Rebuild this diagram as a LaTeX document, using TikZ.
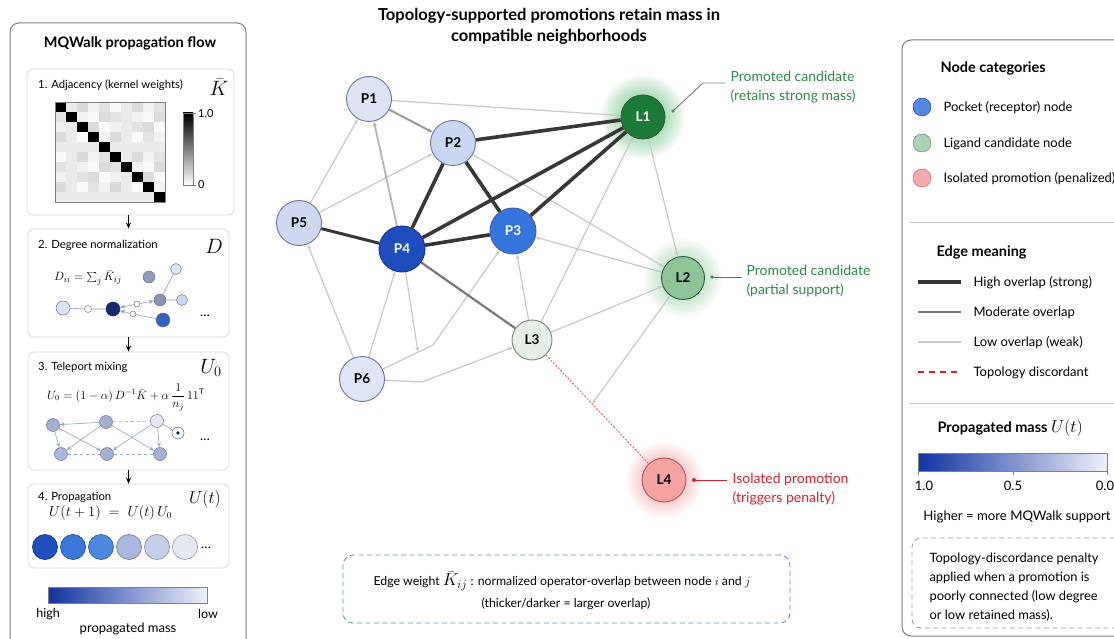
\documentclass[tikz,border=0pt]{standalone}
\usepackage{fontspec}
\setmainfont{Lato}
\usetikzlibrary{arrows.meta,positioning,backgrounds}
\definecolor{nodeP1}{RGB}{221,227,245}
\definecolor{nodeP2}{RGB}{201,216,242}
\definecolor{nodeP3}{RGB}{52,118,222}
\definecolor{nodeP4}{RGB}{30,78,190}
\definecolor{nodeP5}{RGB}{206,217,241}
\definecolor{nodeP6}{RGB}{223,228,246}
\definecolor{nodeL1}{RGB}{27,122,56}
\definecolor{nodeL2}{RGB}{142,196,152}
\definecolor{nodeL3}{RGB}{229,239,229}
\definecolor{nodeL4}{RGB}{245,162,162}
\definecolor{rimBlue}{RGB}{105,118,150}
\definecolor{rimDeep}{RGB}{22,50,130}
\definecolor{rimGreen}{RGB}{40,95,55}
\definecolor{rimRed}{RGB}{190,80,80}
\definecolor{glowG}{RGB}{70,175,90}
\definecolor{glowR}{RGB}{240,90,90}
\definecolor{strongE}{RGB}{55,55,55}
\definecolor{midE}{RGB}{120,120,120}
\definecolor{weakE}{RGB}{200,200,200}
\definecolor{txtGreen}{RGB}{40,140,70}
\definecolor{txtSage}{RGB}{70,130,90}
\definecolor{txtRed}{RGB}{225,30,40}
\definecolor{frameGray}{RGB}{125,125,125}
\definecolor{boxGray}{RGB}{215,215,215}
\definecolor{massHi}{RGB}{16,52,160}
\definecolor{massLo}{RGB}{238,240,250}
\definecolor{dashBlue}{RGB}{95,135,190}
\definecolor{miniE}{RGB}{150,172,212}
\definecolor{mass1}{RGB}{30,80,190}
\definecolor{mass2}{RGB}{58,120,220}
\definecolor{mass3}{RGB}{78,137,225}
\definecolor{mass4}{RGB}{168,184,222}
\definecolor{mass5}{RGB}{196,207,234}
\definecolor{mass6}{RGB}{230,233,243}
\newcommand{\fsz}[2]{\fontsize{#1}{#2}\selectfont}
\tikzset{
  gnode/.style={circle, draw=rimBlue, line width=0.9pt, minimum size=45pt, inner sep=0pt, font=\bfseries\fsz{13.5}{13.5}},
  strong/.style={draw=strongE, line width=3.6pt},
  moderate/.style={draw=midE, line width=2.2pt},
  weak/.style={draw=weakE, line width=1.2pt},
  arrowed/.style={-{Stealth[length=5pt,width=4pt]}},
  discordline/.style={draw=txtRed!80, line width=0.8pt, dash pattern=on 2pt off 1.5pt},
  pointer/.style={line width=0.9pt},
  legtext/.style={anchor=west, font=\fsz{13}{15}},
  steptitle/.style={anchor=west, inner sep=1pt, font=\fsz{11.3}{13}},
  symbol/.style={inner sep=0pt},
  stepbox/.style={draw=boxGray, rounded corners=6pt, line width=0.8pt, inner sep=0pt},
  panel/.style={draw=frameGray, rounded corners=9pt, line width=1pt},
  flow/.style={-{Stealth[length=6pt,width=5pt]}, line width=1.3pt},
  mini/.style={circle, draw=rimBlue, line width=0.5pt, inner sep=0pt, minimum size=#1},
  miniedge/.style={draw=miniE, line width=0.7pt},
  headline/.style={anchor=west, font=\bfseries\fsz{14.5}{17}},
}

\begin{document}
\begin{tikzpicture}[x=1pt, y=-1pt]
\useasboundingbox (0,0) rectangle (1114,639);

% title
\node[font=\bfseries\fsz{16.5}{21}, align=center] (title) at (549,26) {Topology-supported promotions retain mass in\\compatible neighborhoods};

% ---------------- left panel ----------------
\draw[panel] (10,23) rectangle (246,660);
\node[font=\bfseries\fsz{14.5}{17}] (flowtitle) at (130,43) {MQWalk propagation flow};
\node[stepbox, minimum width=207pt, minimum height=146pt] (s1) at (130.5,142) {};
\node[stepbox, minimum width=201pt, minimum height=108pt] (s2) at (128.5,283) {};
\node[stepbox, minimum width=201pt, minimum height=118pt] (s3) at (128.5,411) {};
\node[stepbox, minimum width=201pt, minimum height=84pt] (s4) at (128.5,526) {};
\draw[flow] (s2.north |- s1.south) -- (s2.north);
\draw[flow] (s2.south) -- (s3.north);
\draw[flow] (s3.south) -- (s4.north);

% step 1
\node[steptitle] (t1) at (37,85) {1. Adjacency (kernel weights)};
\node[symbol, font=\fsz{21}{21}] (sym1) at (219,87) {$\bar K$};
\foreach \i in {0,...,9}{
  \foreach \j in {0,...,9}{
    \pgfmathtruncatemacro{\g}{\i==\j ? 100 : mod(3*\i+7*\j+2*\i*\j,5)*3+2}
    \fill[black!\g] (55+11*\j,102+10*\i) rectangle ++(11,10);
  }
}
\draw[gray, line width=0.5pt] (55,102) rectangle (165,202);
\shade[top color=black, bottom color=white] (183,113) rectangle (193,185);
\draw[gray, line width=0.5pt] (183,113) rectangle (193,185);
\draw[gray] (193,113) -- (196,113) (193,185) -- (196,185);
\node[anchor=west, inner sep=1pt, font=\fsz{11}{13}] (cb1) at (197,114) {1.0};
\node[anchor=west, inner sep=1pt, font=\fsz{11}{13}] (cb0) at (197,185) {0};

% step 2
\node[steptitle] (t2) at (37,245) {2. Degree normalization};
\node[symbol, font=\fsz{21}{21}] (sym2) at (214,246) {$D$};
\node[anchor=west, inner sep=1pt, font=\fsz{13}{15}] (f2) at (53,278) {$D_{ii} = \sum_j \bar K_{ij}$};
\node[mini=14pt, fill=nodeP1] (m1) at (63,308) {};
\node[mini=7pt, fill=white] (m2) at (88,309) {};
\node[mini=14pt, fill=rimDeep!85!black, draw=rimDeep] (m3) at (113,309) {};
\node[mini=6pt, fill=white] (m4) at (137,304) {};
\node[mini=6pt, fill=white] (m5) at (133,314) {};
\node[mini=12pt, fill=mass4!80!black] (m6) at (160,300) {};
\node[mini=11pt, fill=nodeP2] (m7) at (182,300) {};
\node[mini=12pt, fill=mass4!85!black] (m8) at (149,277) {};
\node[mini=11pt, fill=nodeP1] (m9) at (176,269) {};
\node[mini=14pt, fill=mass2!85!black] (m10) at (163,320) {};
\draw[miniE!70!gray, line width=0.6pt] (m1) -- (m2) (m2) -- (m3);
\draw[miniE!70!gray, line width=0.6pt, arrowed] (m4) -- (m3);
\draw[miniE!70!gray, line width=0.6pt, arrowed] (m5) -- (m3);
\draw[miniE!70!gray, line width=0.6pt, arrowed] (m4) -- (m6);
\draw[miniE!70!gray, line width=0.6pt] (m6) -- (m7) (m6) -- (m9) (m5) -- (m10);
\node[font=\fsz{13}{13}] (dots2) at (205,316) {\dots};

% step 3
\node[steptitle] (t3) at (37,367) {3. Teleport mixing};
\node[symbol, font=\fsz{20}{20}] (sym3) at (211,368) {$U_0$};
\node[anchor=west, inner sep=1pt, font=\fsz{12}{14}] (f3) at (46,397) {$U_0 = (1-\alpha)\,D^{-1}\bar K + \alpha\,{\displaystyle\frac{1}{n_j}}\,11^{\mathsf{T}}$};
\node[mini=13pt, fill=mass4!85!gray] (k1) at (53,425) {};
\node[mini=13pt, fill=mass4!85!gray] (k2) at (106,422) {};
\node[mini=13pt, fill=mass6] (k3) at (157,421) {};
\node[mini=12pt, fill=white, draw=rimBlue!80!black] (k4) at (178,433) {};
\fill[rimDeep!60!black] (k4) circle (1.8pt);
\node[mini=13pt, fill=mass4] (k5) at (61,454) {};
\node[mini=13pt, fill=mass4!90!gray] (k6) at (107,454) {};
\node[mini=13pt, fill=mass4!90!gray] (k7) at (160,454) {};
\draw[miniedge, arrowed] (k2) -- (k1);
\draw[miniedge, dashed] (k2) -- (k3);
\draw[miniedge, dashed] (k5) -- (k6);
\draw[miniedge, dashed] (k6) -- (k7);
\draw[miniedge, arrowed] (k1) -- (k5);
\draw[miniedge, arrowed] (k1) -- (k6);
\draw[miniedge, arrowed] (k2) -- (k5);
\draw[miniedge, arrowed] (k2) -- (k7);
\draw[miniedge, arrowed] (k3) -- (k6);
\draw[miniedge, arrowed] (k3) -- (k7);
\draw[miniedge] (k3) -- (k4);
\node[font=\fsz{13}{13}] (dots3) at (205,440) {\dots};

% step 4
\node[steptitle] (t4) at (37,497) {4. Propagation};
\node[symbol, font=\fsz{18}{18}] (sym4) at (205,499) {$U(t)$};
\node[anchor=west, inner sep=1pt, font=\fsz{13.5}{15}] (f4) at (48,513) {$U(t+1) \;=\; U(t)\,U_0$};
\foreach \c [count=\k] in {mass1,mass2,mass3,mass4,mass5,mass6}{
  \node[circle, fill=\c, draw=\c!70!black, line width=0.7pt, minimum size=25pt, inner sep=0pt] (u\k) at ({45+28*(\k-1)},547) {};
}
\node[font=\fsz{13}{13}] (dots4) at (206,548) {\dots};

% mass bar
\shade[left color=massHi, right color=massLo] (48,587) rectangle (207,603);
\draw[gray, line width=0.5pt] (48,587) rectangle (207,603);
\node[inner sep=1pt, font=\fsz{12.5}{14}] (hi) at (48,614) {high};
\node[inner sep=1pt, font=\fsz{12.5}{14}] (lo) at (208,614) {low};
\node[inner sep=1pt, font=\fsz{13}{15}] (pm) at (128,629) {propagated mass};

% ---------------- graph ----------------
\node[gnode, fill=nodeP1] (P1) at (369,99) {P1};
\node[gnode, fill=nodeP2] (P2) at (453,143) {P2};
\node[gnode, fill=nodeP5] (P5) at (299,223) {P5};
\node[gnode, fill=nodeP4, draw=rimDeep, text=white, minimum size=46pt] (P4) at (402,249) {P4};
\node[gnode, fill=nodeP3, draw=rimDeep!80, text=white, minimum size=46pt] (P3) at (513,231) {P3};
\node[gnode, fill=nodeP6] (P6) at (362,379) {P6};
\node[gnode, fill=nodeL1, draw=rimGreen, text=white, minimum size=44pt] (L1) at (643,117) {L1};
\node[gnode, fill=nodeL2, draw=rimGreen, minimum size=43pt] (L2) at (683,278) {L2};
\node[gnode, fill=nodeL3, draw=gray, minimum size=40pt] (L3) at (532,340) {L3};
\node[gnode, fill=nodeL4, draw=rimRed, minimum size=44pt] (L4) at (664,480) {L4};
\coordinate (bendA) at (433,345);
\coordinate (joinA) at (418,352);
\coordinate (bendB) at (422,382);
\coordinate (joinB) at (592,404);

\begin{scope}[on background layer]
  \foreach \r in {22,24,...,42}{\fill[glowG, opacity=0.05] (L1) circle (\r pt);}
  \foreach \r in {21,23,...,39}{\fill[glowG, opacity=0.035] (L2) circle (\r pt);}
  \foreach \r in {22,24,...,38}{\fill[glowR, opacity=0.04] (L4) circle (\r pt);}
  % weak overlaps
  \draw[weak, arrowed] (P1) -- (L1);
  \draw[weak, arrowed] (P5) -- (P1);
  \draw[weak, arrowed] (P5) -- (P2);
  \draw[weak, arrowed] (P6) -- (P5);
  \draw[weak, arrowed] (P6) -- (P4);
  \draw[weak, arrowed] (P2) -- (L2);
  \draw[weak, arrowed] (L2) -- (P3);
  \draw[weak, arrowed] (L1) -- (L2);
  \draw[weak, arrowed] (L3) -- (L1);
  \draw[weak, arrowed] (L3) -- (P3);
  \draw[weak, arrowed] (L3) -- (L2);
  \draw[weak, arrowed] (P6) -- (bendA) -- (P3);
  \draw[weak, arrowed] (P4) -- (joinA);
  \draw[weak, arrowed] (P6) -- (bendB) -- (L3);
  \draw[weak, arrowed] (L2) -- (joinB);
  % moderate overlaps
  \draw[moderate, draw=midE!75, line width=2pt, arrowed] (P1) -- (P2);
  \draw[moderate, draw=midE!55, line width=1.8pt, arrowed] (P4) -- (P1);
  \draw[moderate] (P4) -- (L3);
  % strong overlaps
  \draw[strong] (P2) -- (L1);
  \draw[strong] (P4) -- (L1);
  \draw[strong] (P3) -- (L1);
  \draw[strong] (P2) -- (P4);
  \draw[strong] (P2) -- (P3);
  \draw[strong] (P4) -- (P3);
  \draw[strong, line width=3pt] (P5) -- (P4);
  \draw[discordline] (L3) -- (L4);
\end{scope}

% callouts
\coordinate (dotA) at (673,111);
\coordinate (kneeA) at (703,83);
\coordinate (endA) at (725,83);
\fill[frameGray] (dotA) circle (1.8pt);
\draw[pointer, draw=frameGray] (dotA) -- (kneeA) -- (endA);
\node[anchor=west, text=txtGreen, align=left, font=\fsz{14}{19}] (noteA) at (727,87.5) {Promoted candidate\\(retains strong mass)};
\coordinate (dotB) at (712,277);
\coordinate (endB) at (742,277);
\fill[txtSage] (dotB) circle (1.8pt);
\draw[pointer, draw=txtSage] (endB) -- (dotB);
\node[anchor=west, text=txtGreen, align=left, font=\fsz{14}{19}] (noteB) at (743,281.5) {Promoted candidate\\(partial support)};
\coordinate (dotC) at (694,480);
\coordinate (endC) at (727,480);
\fill[txtRed] (dotC) circle (2pt);
\draw[pointer, draw=txtRed] (endC) -- (dotC);
\node[anchor=west, text=txtRed, align=left, font=\fsz{14}{19}] (noteC) at (729,489.5) {Isolated promotion\\(triggers penalty)};

% edge weight box
\node[draw=dashBlue, line width=0.9pt, dash pattern=on 5pt off 3.5pt, rounded corners=10pt, minimum width=447pt, minimum height=68pt] (wbox) at (566.5,589) {};
\node[inner sep=0pt, font=\fsz{12.3}{14}] (w1) at (562,581) {Edge weight {\fsz{18}{18}$\bar K_{ij}$} : normalized operator-overlap between node $i$ and $j$};
\node[inner sep=0pt, font=\fsz{12.3}{14}] (w2) at (566,604) {(thicker/darker = larger overlap)};

% ---------------- right panel ----------------
\draw[panel] (902,40) rectangle (1140,636);
\node[headline] (cat) at (937,68) {Node categories};
\fill[nodeP3!85!white, draw=rimDeep] (922,107) circle (9pt);
\fill[nodeL2!75!white, draw=rimGreen!80] (922,143) circle (9pt);
\fill[nodeL4!90!white, draw=rimRed] (922,178) circle (9pt);
\node[legtext] (c1) at (940,108) {Pocket (receptor) node};
\node[legtext] (c2) at (940,144) {Ligand candidate node};
\node[legtext] (c3) at (940,179) {Isolated promotion (penalized)};
\draw[boxGray!80!gray, line width=0.8pt] (910,222) -- (1114,222);

\node[headline] (edg) at (933,252) {Edge meaning};
\draw[strong] (918,282) -- (961,282);
\draw[moderate, line width=2.6pt] (918,312) -- (961,312);
\draw[weak, line width=1.4pt] (918,342) -- (961,342);
\draw[draw=txtRed, line width=1.6pt, dash pattern=on 6pt off 5pt] (918,372) -- (961,372);
\node[legtext] (e1) at (970,283) {High overlap (strong)};
\node[legtext] (e2) at (970,313) {Moderate overlap};
\node[legtext] (e3) at (970,343) {Low overlap (weak)};
\node[legtext] (e4) at (970,373) {Topology discordant};
\draw[boxGray!80!gray, line width=0.8pt] (910,403) -- (1114,403);

\node[headline] (pmt) at (934,428) {Propagated mass {\fsz{16}{17}$U(t)$}};
\shade[left color=massHi, right color=massLo] (918,453) rectangle (1107,471);
\draw[gray, line width=0.6pt] (918,453) rectangle (1107,471);
\draw[gray, line width=0.6pt] (918,471) -- (918,475) (1013,471) -- (1013,475) (1107,471) -- (1107,475);
\node[font=\fsz{13}{15}] (v1) at (924,486) {1.0};
\node[font=\fsz{13}{15}] (v2) at (1013,486) {0.5};
\node[font=\fsz{13}{15}] (v3) at (1105,486) {0.0};
\node[font=\fsz{13.2}{15}] (hint) at (1017,517) {Higher = more MQWalk support};
\node[draw=gray!80, line width=0.8pt, dash pattern=on 5pt off 3.5pt, rounded corners=9pt, minimum width=220pt, minimum height=90pt] (penbox) at (1022,583) {};
\node[anchor=west, align=left, font=\fsz{12.9}{19}] (pen) at (926,587) {Topology-discordance penalty\\applied when a promotion is\\poorly connected (low degree\\or low retained mass).};
\end{tikzpicture}
\end{document}
